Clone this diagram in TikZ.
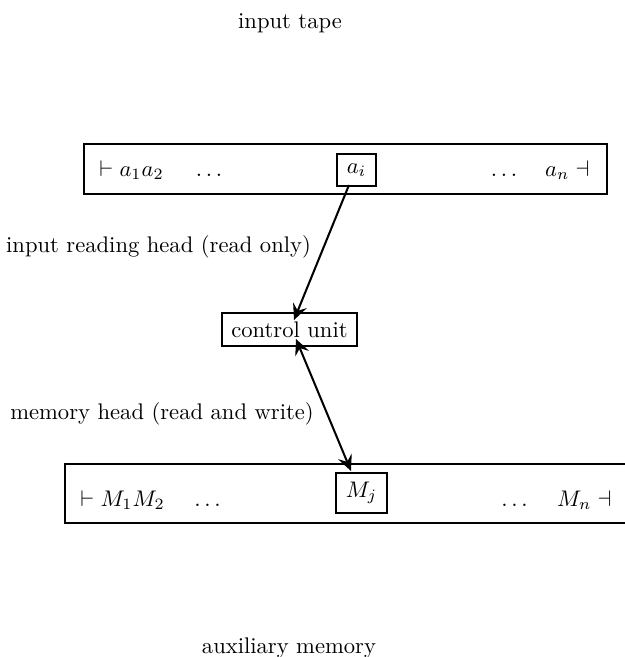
\documentclass[tikz,border=0pt]{standalone}
\usetikzlibrary{arrows.meta}
\begin{document}
\begin{tikzpicture}[x=0.4425pt,y=-0.4425pt,
  tape/.style={draw,line width=0.9pt,rectangle,inner sep=0pt},
  cell/.style={draw,line width=0.9pt,rectangle,inner sep=0pt},
  lbl/.style={inner sep=0pt,anchor=base},
  tip/.style={Stealth[length=7pt,width=6.5pt,inset=2.6pt]},
  arr/.style={line width=0.9pt,-{Stealth[length=7pt,width=6.5pt,inset=2.6pt]}},
  arrb/.style={line width=0.9pt,{Stealth[length=7pt,width=6.5pt,inset=2.6pt]}-{Stealth[length=7pt,width=6.5pt,inset=2.6pt]}}]
\useasboundingbox (0,0) rectangle (625,657);
% labels
\node[lbl] (tlabel) at (290,28) {input tape};
\node[lbl] (rlabel) at (158.5,252) {input reading head (read only)};
\node[lbl] (mlabel) at (162,419) {memory head (read and write)};
\node[lbl] (alabel) at (289,653) {auxiliary memory};
% input tape
\node[tape,minimum width=231.4pt,minimum height=22.1pt] (itape) at (345.5,169) {};
\node[inner sep=0pt,anchor=base west] (t1) at (99,176) {$\vdash a_1a_2$};
\node[inner sep=0pt,anchor=base] (t2) at (209,176) {$\dots$};
\node[cell,minimum width=17.4pt,minimum height=13.8pt] (ai) at (356.5,170) {$a_i$};
\node[inner sep=0pt,anchor=base] (t3) at (504,176) {$\dots$};
\node[inner sep=0pt,anchor=base east] (t4) at (590,176) {$a_n \dashv$};
% control unit
\node[cell,minimum width=60pt,minimum height=14.6pt] (cu) at (289.5,329.5) {control unit};
% memory tape
\node[tape,minimum width=264pt,minimum height=26.1pt,anchor=west] (mtape) at (64,493.5) {};
\node[inner sep=0pt,anchor=base west] (m1) at (80,506) {$\vdash M_1M_2$};
\node[inner sep=0pt,anchor=base] (m2) at (207.5,506) {$\dots$};
\node[cell,minimum width=22.6pt,minimum height=17.7pt] (mj) at (361.5,493) {$M_j$};
\node[inner sep=0pt,anchor=base] (m3) at (514.5,506) {$\dots$};
\node[inner sep=0pt,anchor=base east] (m4) at (612,506) {$M_n \dashv$};
% heads
\coordinate (h1) at (349,185);
\coordinate (c1) at (294,320);
\coordinate (c2) at (296,339);
\coordinate (h2) at (351,471);
\draw[arr] (h1) -- (c1);
\draw[arrb] (c2) -- (h2);
\end{tikzpicture}
\end{document}
